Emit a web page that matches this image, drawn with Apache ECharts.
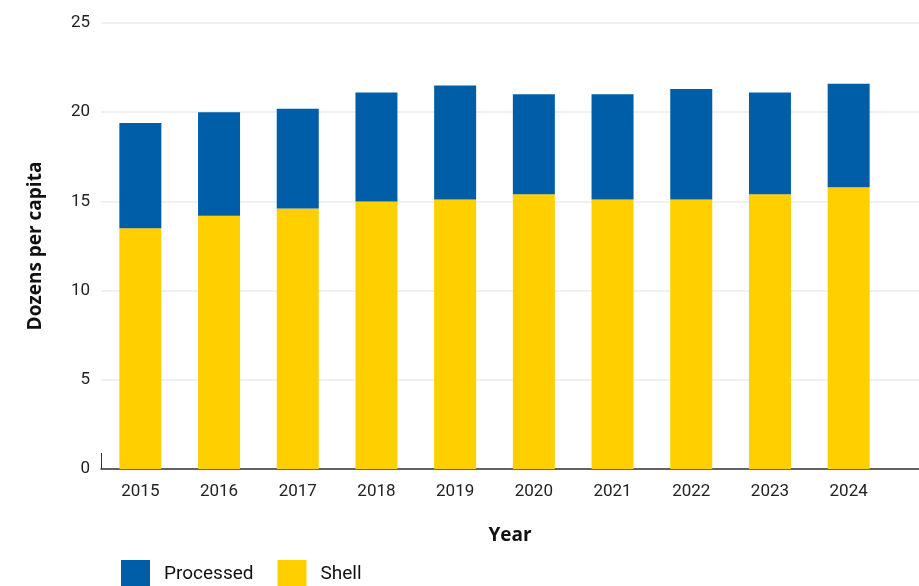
<!DOCTYPE html>
<html>
<head>
<meta charset="utf-8">
<script src="https://cdn.jsdelivr.net/npm/echarts@6/dist/echarts.min.js"></script>
<style>
  html, body { margin: 0; padding: 0; background: #fff; }
  #chart { width: 919px; height: 586px; }
</style>
</head>
<body>
<div id="chart"></div>
<script>
// data
var years = ['2015','2016','2017','2018','2019','2020','2021','2022','2023','2024'];
var shell = [13.5, 14.2, 14.6, 15.0, 15.1, 15.4, 15.1, 15.1, 15.4, 15.8];
var processed = [5.9, 5.8, 5.6, 6.1, 6.4, 5.6, 5.9, 6.2, 5.7, 5.8];

var myChart = echarts.init(document.getElementById('chart'));
var font = 'Roboto';

option = {
    animation: false,
    legend: {
        left: 121, top: 560, padding: 0,
        itemWidth: 29, itemHeight: 29, itemGap: 24,
        icon: 'rect',
        textStyle: { fontFamily: font, fontSize: 19, color: '#111', padding: [0, 0, 0, 9] },
        data: ['Processed', 'Shell']
    },
    grid: [
        { left: 101, right: 31, top: 23, bottom: 117 },
        // wider grid only for gridlines and base line
        { left: 101, right: -3, top: 23, bottom: 117 }
    ],
    xAxis: [
        {
            type: 'category', gridIndex: 0, data: years,
            axisLine: { show: false },
            axisTick: { show: false },
            axisLabel: { fontFamily: font, fontSize: 17, color: '#222', margin: 14 }
        },
        {
            type: 'value', gridIndex: 1, min: 0, max: 1, interval: 1,
            name: 'Year', nameLocation: 'middle', nameGap: 57,
            nameTextStyle: { fontFamily: 'Open Sans', fontWeight: 'bold', fontSize: 19, color: '#111' },
            axisLine: { show: true, lineStyle: { color: '#333', width: 1.5 } },
            axisTick: { show: true, inside: true, length: 16, lineStyle: { color: '#333' } },
            axisLabel: { show: false }, splitLine: { show: false }
        }
    ],
    yAxis: [
        {
            type: 'value', gridIndex: 0, min: 0, max: 25, interval: 5,
            name: 'Dozens per capita', nameLocation: 'middle', nameGap: 56,
            nameTextStyle: { fontFamily: 'Open Sans', fontWeight: 'bold', fontSize: 19, color: '#111' },
            axisLine: { show: false }, axisTick: { show: false },
            axisLabel: { fontFamily: font, fontSize: 17, color: '#222', margin: 11 },
            splitLine: { show: false }
        },
        {
            type: 'value', gridIndex: 1, min: 0, max: 25, interval: 5,
            axisLine: { show: false }, axisTick: { show: false }, axisLabel: { show: false },
            splitLine: { show: true, lineStyle: { color: '#ebebeb', width: 1.5 } }
        }
    ],
    series: [
        {
            name: 'Shell', type: 'bar', stack: 'eggs', barWidth: 42,
            xAxisIndex: 0, yAxisIndex: 0,
            itemStyle: { color: '#FFCF00' },
            data: shell
        },
        {
            name: 'Processed', type: 'bar', stack: 'eggs', barWidth: 42,
            xAxisIndex: 0, yAxisIndex: 0,
            itemStyle: { color: '#005EA8' },
            data: processed
        }
    ]
};

myChart.setOption(option);
</script>
</body>
</html>
